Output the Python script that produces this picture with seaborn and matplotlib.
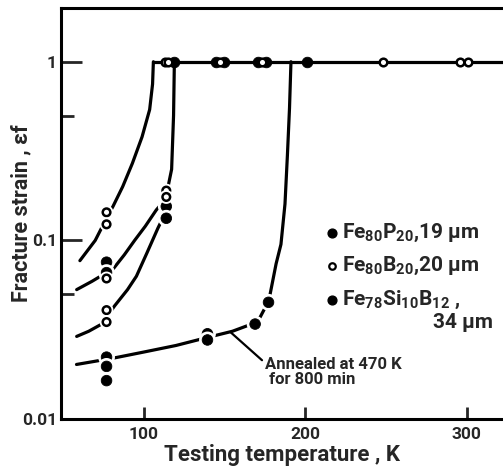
import matplotlib
matplotlib.use("Agg")
import matplotlib.pyplot as plt
import matplotlib.patheffects as pe
from matplotlib import font_manager
from matplotlib.ticker import FixedLocator, NullFormatter
import seaborn as sns

# ---- measured points -------------------------------------------------------
# Fe80P20, 19 um (filled circles)
fep_T = [77, 77, 114, 114, 119, 145, 150, 171, 176, 201]
fep_e = [0.0755, 0.066, 0.155, 0.133, 1, 1, 1, 1, 1, 1]
# Fe80B20, 20 um (open circles)
feb_T = [77, 77, 77, 77, 77, 114, 114, 113, 115, 147, 173, 248, 296, 301]
feb_e = [0.1436, 0.123, 0.0612, 0.0407, 0.0349, 0.19, 0.175,
         1, 1, 1, 1, 1, 1, 1]
# Fe78Si10B12, 34 um, annealed (filled circles)
fes_T = [77, 77, 77, 139.5, 139.5, 169, 177.3]
fes_e = [0.0222, 0.0197, 0.0164, 0.030, 0.0277, 0.034, 0.045]

# ---- hand-drawn guide curves through the data ------------------------------
curve_a_T = [60.5, 70, 77, 81, 87, 93, 99, 103.7, 105.5, 106]
curve_a_e = [0.077, 0.1, 0.133, 0.155, 0.2, 0.27, 0.38, 0.54, 0.75, 1.0]
curve_b_T = [58.5, 68, 77, 81, 88, 94.4, 101, 107.8, 113.5, 117.3, 118.5, 119]
curve_b_e = [0.053, 0.059, 0.066, 0.069, 0.083, 0.1, 0.12, 0.148, 0.17,
             0.25, 0.5, 1.0]
curve_c_T = [58.5, 66, 74, 82, 90, 95.5, 102, 108.8, 113]
curve_c_e = [0.029, 0.031, 0.034, 0.043, 0.053, 0.063, 0.085, 0.117, 0.14]
curve_d_T = [58.4, 81, 100, 120, 138.7, 155, 165, 172, 177.5, 182, 185,
             187.5, 189, 190.3, 191.2]
curve_d_e = [0.0202, 0.0219, 0.0237, 0.0258, 0.0285, 0.031, 0.0335, 0.037,
             0.046, 0.074, 0.095, 0.16, 0.3, 0.55, 1.0]
plateau_T = [106, 330]
plateau_e = [1.0, 1.0]

x_ticks = [100, 200, 300]
y_ticks = [0.01, 0.1, 1]
y_ticklabels = ["0.01", "0.1", "1"]
y_minor = [0.05, 0.5]

legend_labels = ["Fe$_{80}$P$_{20}$,19 μm",
                 "Fe$_{80}$B$_{20}$,20 μm",
                 "Fe$_{78}$Si$_{10}$B$_{12}$ ,"]
legend_extra = "34 μm"
legend_filled = [True, False, True]

# ---- style -----------------------------------------------------------------
sns.set_style("white")


def pick_font(names):
    for n in names:
        try:
            font_manager.findfont(n, fallback_to_default=False)
            return n
        except Exception:
            continue
    return "DejaVu Sans"


main_font = pick_font(["Liberation Sans Narrow", "Roboto", "Liberation Sans"])
plt.rcParams["font.family"] = [main_font, "DejaVu Sans"]
plt.rcParams["font.weight"] = "bold"
plt.rcParams["mathtext.fontset"] = "custom"
plt.rcParams["mathtext.rm"] = f"{main_font}:bold"
plt.rcParams["mathtext.bf"] = f"{main_font}:bold"
plt.rcParams["mathtext.it"] = f"{main_font}:bold"
plt.rcParams["mathtext.default"] = "bf"

fig = plt.figure(figsize=(5.03, 4.68), dpi=100)
ax = fig.add_axes([61 / 503, 1 - 419 / 468, 442 / 503, 411 / 468])

ink = "black"
line_kw = dict(color=ink, lw=2.3, sort=False, estimator=None, ax=ax,
               legend=False)
for T, e in [(curve_a_T, curve_a_e), (curve_b_T, curve_b_e),
             (curve_c_T, curve_c_e), (curve_d_T, curve_d_e),
             (plateau_T, plateau_e)]:
    sns.lineplot(x=T, y=e, **line_kw)

halo = [pe.withStroke(linewidth=4.5, foreground="white")]


def split(T, e):
    low = [(t, v) for t, v in zip(T, e) if v < 1]
    top = [(t, v) for t, v in zip(T, e) if v >= 1]
    return low, top


def draw_points(T, e, filled):
    low, top = split(T, e)
    for pts, effects in [(low, halo), (top, None)]:
        if not pts:
            continue
        xs = [p[0] for p in pts]
        ys = [p[1] for p in pts]
        if filled:
            sns.scatterplot(x=xs, y=ys, ax=ax, s=58, color=ink,
                            edgecolor=ink, linewidth=0.6, zorder=5,
                            path_effects=effects, legend=False)
        else:
            sns.scatterplot(x=xs, y=ys, ax=ax, s=30, facecolor="white",
                            edgecolor=ink, linewidth=1.8, zorder=5,
                            path_effects=effects, legend=False)


draw_points(fep_T, fep_e, True)
draw_points(feb_T, feb_e, False)
draw_points(fes_T, fes_e, True)

# ---- axes ------------------------------------------------------------------
ax.set_yscale("log")
ax.set_xlim(48.8, 322.5)
ax.set_ylim(0.01, 2.0)
ax.set_xticks(x_ticks)
ax.set_xticklabels([str(t) for t in x_ticks])
ax.set_yticks(y_ticks)
ax.set_yticklabels(y_ticklabels)
ax.yaxis.set_minor_locator(FixedLocator(y_minor))
ax.yaxis.set_minor_formatter(NullFormatter())
ax.xaxis.set_minor_locator(FixedLocator([]))

ax.tick_params(axis="x", which="major", direction="in", length=9, width=2,
               pad=6, labelsize=12.5, bottom=True, top=False)
ax.tick_params(axis="y", which="major", direction="in", length=15, width=2,
               pad=3, labelsize=12.5, left=True, right=False)
ax.tick_params(axis="y", which="minor", direction="in", length=9, width=2,
               left=True, right=False)

for side in ["left", "top", "bottom"]:
    ax.spines[side].set_linewidth(2.2)
    ax.spines[side].set_color(ink)
ax.spines["right"].set_visible(False)

ax.set_xlabel("Testing temperature , K", fontsize=16, fontweight="bold",
              labelpad=1)
ax.set_ylabel("Fracture strain , εf", fontsize=15.5, fontweight="bold")
ax.yaxis.set_label_coords(-0.064, 0.5)

# ---- legend ----------------------------------------------------------------
rows_y = [0.4526, 0.3723, 0.2895]
for yy, lab, filled in zip(rows_y, legend_labels, legend_filled):
    if filled:
        ax.scatter([0.613], [yy], transform=ax.transAxes, s=40, color=ink,
                   zorder=6, clip_on=False)
    else:
        ax.scatter([0.613], [yy], transform=ax.transAxes, s=22,
                   facecolor="white", edgecolor=ink, linewidth=1.6,
                   zorder=6, clip_on=False)
    ax.text(0.636, yy, lab, transform=ax.transAxes, fontsize=15,
            fontweight="bold", va="center", ha="left")
ax.text(0.842, 0.2336, legend_extra, transform=ax.transAxes, fontsize=15,
        fontweight="bold", va="center", ha="left")

# ---- annotation --------------------------------------------------------------
ax.annotate("Annealed at 470 K\n for 800 min", xy=(154, 0.0305),
            xytext=(175.3, 0.0222), textcoords="data", fontsize=12,
            fontweight="bold", ha="left", va="top", linespacing=1.0,
            arrowprops=dict(arrowstyle="-", color=ink, lw=1.6,
                            shrinkA=0, shrinkB=0, relpos=(0, 0.8)))

fig.savefig("out.png", dpi=100)
